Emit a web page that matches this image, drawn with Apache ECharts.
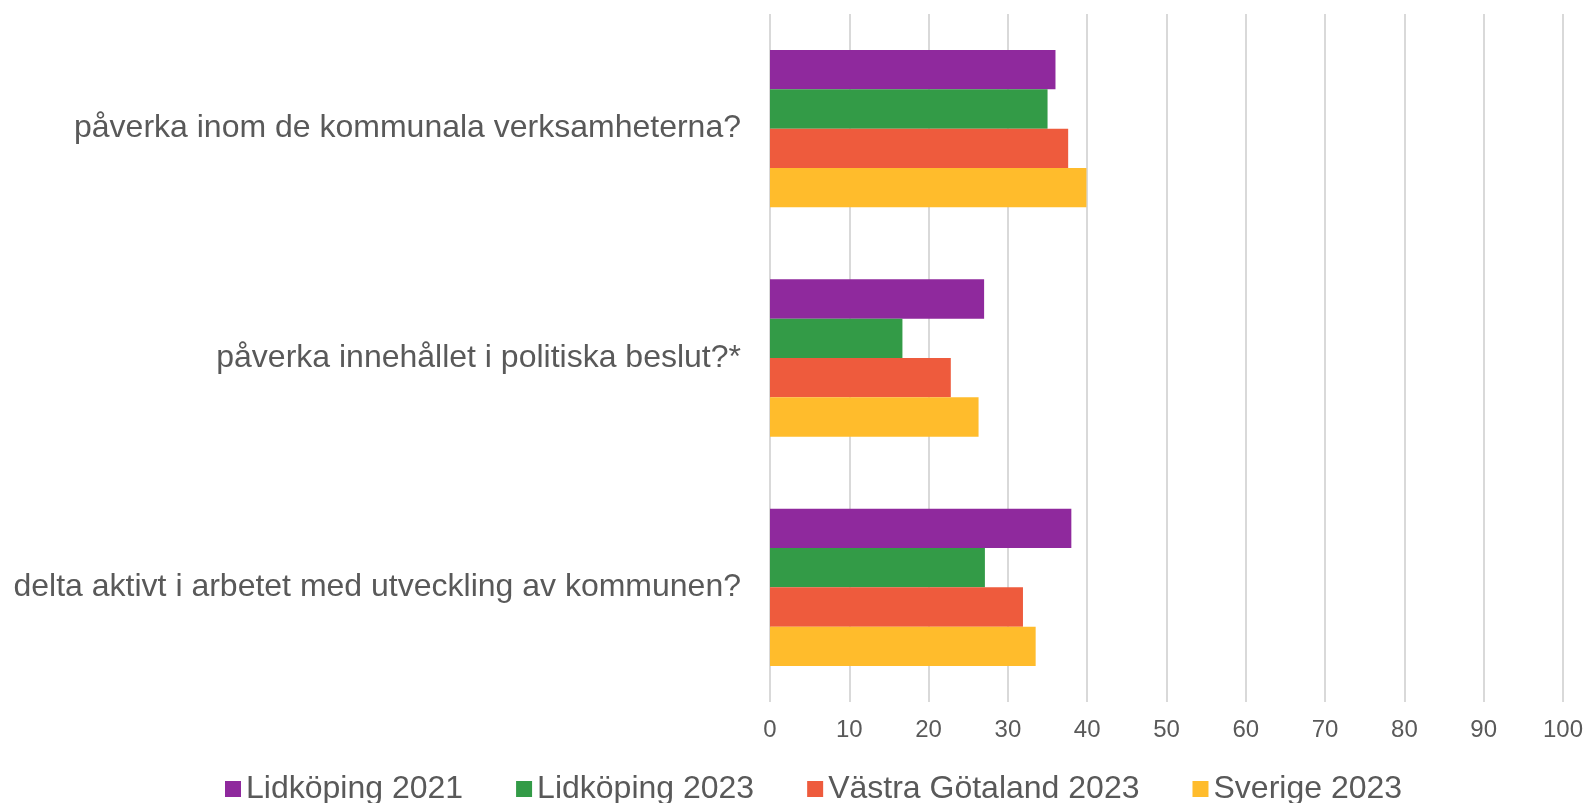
<!DOCTYPE html>
<html>
<head>
<meta charset="utf-8">
<script src="https://cdn.jsdelivr.net/npm/echarts@6/dist/echarts.min.js"></script>
<style>
  html, body { margin: 0; padding: 0; background: #fff; }
  #chart { width: 1588px; height: 803px; }
</style>
</head>
<body>
<div id="chart"></div>
<script>
// frågor (uppifrån och ned)
var categories = [
  "påverka inom de kommunala verksamheterna?",
  "påverka innehållet i politiska beslut?*",
  "delta aktivt i arbetet med utveckling av kommunen?"
];
var seriesNames = ["Lidköping 2021", "Lidköping 2023", "Västra Götaland 2023", "Sverige 2023"];
var lidkoping2021 = [36.0, 27.0, 38.0];
var lidkoping2023 = [35.0, 16.7, 27.1];
var vastraGotaland2023 = [37.6, 22.8, 31.9];
var sverige2023 = [39.9, 26.3, 33.5];
var xTicks = [0, 10, 20, 30, 40, 50, 60, 70, 80, 90, 100];

var colors = ["#8F299D", "#339B47", "#EE5B3D", "#FFBC2C"];
var textColor = "#595959";
var fontFam = "'Liberation Sans', Arial, sans-serif";

var chart = echarts.init(document.getElementById("chart"));
var values = [lidkoping2021, lidkoping2023, vastraGotaland2023, sverige2023];

var option = {
  animation: false,
  color: colors,
  textStyle: { fontFamily: fontFam },
  grid: {
    left: 770,
    right: 25,
    top: 14,
    bottom: 101
  },
  legend: {
    left: 220,
    top: 768,
    itemWidth: 16,
    itemHeight: 16,
    itemGap: 53,
    icon: "rect",
    textStyle: { fontSize: 32, color: textColor, fontFamily: fontFam },
    data: seriesNames
  },
  xAxis: {
    type: "value",
    min: xTicks[0],
    max: xTicks[xTicks.length - 1],
    interval: 10,
    axisLine: { show: false },
    axisTick: { show: false },
    axisLabel: { fontSize: 24, color: textColor, margin: 16, fontFamily: fontFam },
    splitLine: { lineStyle: { color: "#D9D9D9", width: 2 } }
  },
  yAxis: {
    type: "category",
    inverse: true,
    data: categories,
    axisLine: { show: false },
    axisTick: { show: false },
    axisLabel: { fontSize: 32, color: textColor, margin: 29, fontFamily: fontFam }
  },
  series: seriesNames.map(function (name, i) {
    return {
      name: name,
      type: "bar",
      data: values[i],
      barGap: "0%",
      barCategoryGap: "31.4%"
    };
  })
};
chart.setOption(option);
</script>
</body>
</html>
